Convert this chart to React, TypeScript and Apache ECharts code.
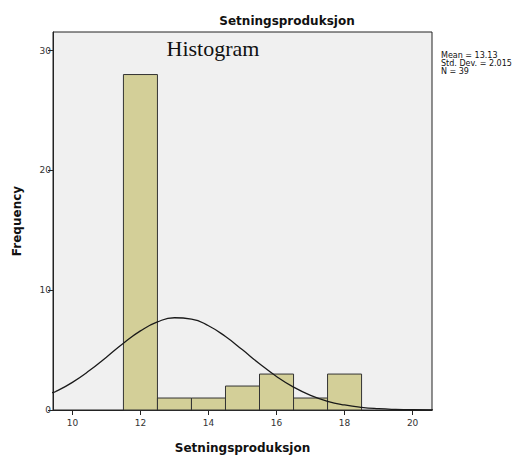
import React, { useEffect, useRef } from "react";
import * as echarts from "echarts";

// Histogram bins: [lower edge, upper edge]
const binEdges: [number, number][] = [
  [11.5, 12.5],
  [12.5, 13.5],
  [13.5, 14.5],
  [14.5, 15.5],
  [15.5, 16.5],
  [16.5, 17.5],
  [17.5, 18.5],
];
const binCounts = [28, 1, 1, 2, 3, 1, 3];

// Fitted normal curve (scaled to frequency)
const curveX = [9.4, 9.5, 10, 10.5, 11, 11.5, 12, 12.5, 13, 13.5, 14, 14.5, 15, 15.5, 16, 16.5, 17, 17.5, 18, 18.5, 19, 19.5, 20, 20.6];
const curveY = [1.45, 1.52, 2.31, 3.29, 4.41, 5.57, 6.6, 7.35, 7.7, 7.59, 7.03, 6.13, 5.02, 3.86, 2.8, 1.91, 1.22, 0.73, 0.42, 0.22, 0.11, 0.05, 0.02, 0.01];

const xTicks = [10, 12, 14, 16, 18, 20];
const yTicks = [0, 10, 20, 30];

const statsLines = ["Mean = 13.13", "Std. Dev. = 2.015", "N = 39"];

export default function App() {
  const ref = useRef<HTMLDivElement>(null);

  useEffect(() => {
    if (!ref.current) return;
    const chart = echarts.init(ref.current, undefined, { renderer: "svg" });
    const sans = "'DejaVu Sans', 'Noto Sans', sans-serif";

    chart.setOption({
      animation: false,
      backgroundColor: "#ffffff",
      grid: {
        left: 53,
        right: 94,
        top: 32,
        bottom: 42,
        show: true,
        backgroundColor: "#f0f0f0",
        borderColor: "#222",
        borderWidth: 1,
      },
      xAxis: {
        type: "value",
        min: 9.43,
        max: 20.57,
        name: "Setningsproduksjon",
        nameLocation: "middle",
        nameGap: 32,
        nameTextStyle: { fontFamily: sans, fontWeight: "bold", fontSize: 12, color: "#111" },
        axisLine: { show: true, lineStyle: { color: "#222", width: 1 } },
        axisTick: { show: true, inside: false, length: 5, customValues: xTicks, lineStyle: { color: "#222" } },
        axisLabel: { customValues: xTicks, fontFamily: sans, fontSize: 9, color: "#333", margin: 8 },
        splitLine: { show: false },
      },
      yAxis: {
        type: "value",
        min: 0,
        max: 31.55,
        name: "Frequency",
        nameLocation: "middle",
        nameGap: 30,
        nameRotate: 90,
        nameTextStyle: { fontFamily: sans, fontWeight: "bold", fontSize: 12, color: "#111" },
        axisLine: { show: true, lineStyle: { color: "#222", width: 1 } },
        axisTick: { show: true, inside: false, length: 5, customValues: yTicks, lineStyle: { color: "#222" } },
        axisLabel: { customValues: yTicks, fontFamily: sans, fontSize: 9, color: "#333", margin: 2 },
        splitLine: { show: false },
      },
      graphic: [
        {
          type: "text",
          x: 287,
          y: 21,
          style: {
            text: "Setningsproduksjon",
            fontFamily: sans,
            fontWeight: "bold",
            fontSize: 12,
            fill: "#111",
            textAlign: "center",
            textVerticalAlign: "middle",
          },
        },
        {
          type: "text",
          x: 213,
          y: 48,
          style: {
            text: "Histogram",
            fontFamily: "'Liberation Serif', 'DejaVu Serif', serif",
            fontSize: 22,
            fill: "#111",
            textAlign: "center",
            textVerticalAlign: "middle",
          },
        },
        ...statsLines.map((line, i) => ({
          type: "text",
          x: 441,
          y: 55 + i * 8,
          style: {
            text: line,
            fontFamily: sans,
            fontSize: 8,
            fill: "#111",
            textAlign: "left",
            textVerticalAlign: "middle",
          },
        })),
      ],
      series: [
        {
          type: "custom",
          data: binEdges.map((e, i) => [e[0], e[1], binCounts[i]]),
          encode: { x: [0, 1], y: 2 },
          renderItem: (_params: any, api: any) => {
            const p0 = api.coord([api.value(0), api.value(2)]);
            const p1 = api.coord([api.value(1), 0]);
            return {
              type: "rect",
              shape: { x: p0[0], y: p0[1], width: p1[0] - p0[0], height: p1[1] - p0[1] },
              style: { fill: "#d3cf98", stroke: "#333", lineWidth: 1 },
            };
          },
          z: 2,
        },
        {
          type: "line",
          data: curveX.map((x, i) => [x, curveY[i]]),
          smooth: true,
          showSymbol: false,
          symbol: "none",
          clip: true,
          lineStyle: { color: "#1a1a1a", width: 1.3 },
          z: 3,
        },
      ],
    });

    return () => chart.dispose();
  }, []);

  return (
    <div
      ref={ref}
      style={{ position: "fixed", left: 0, top: 0, width: 526, height: 459 }}
    />
  );
}
